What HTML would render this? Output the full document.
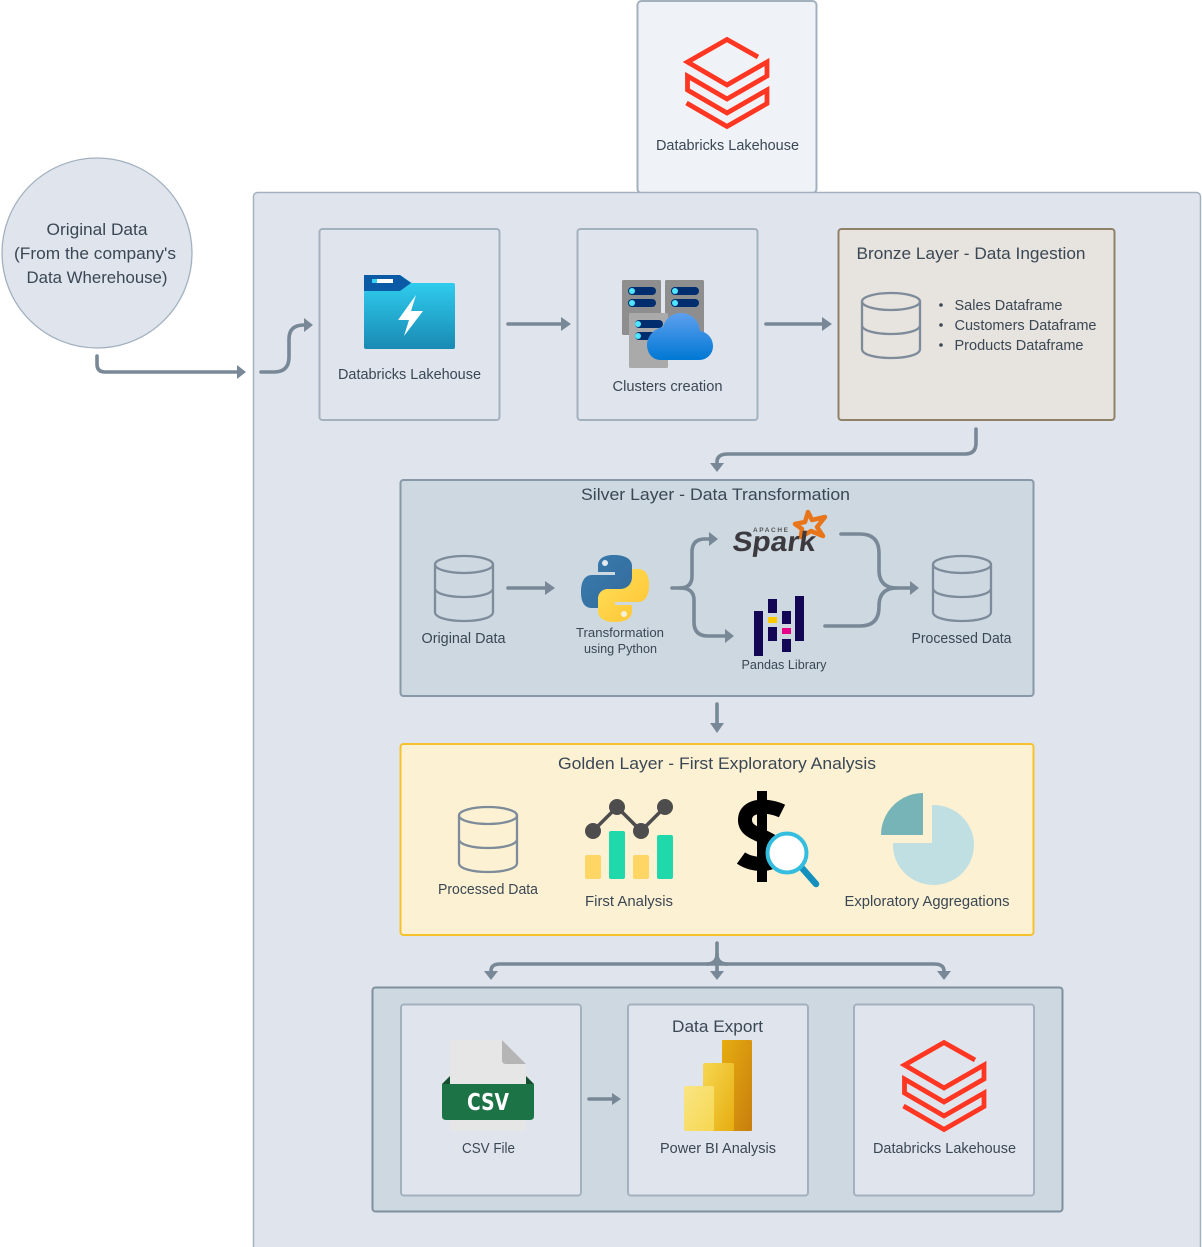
<!DOCTYPE html>
<html><head><meta charset="utf-8"><style>
html,body{margin:0;padding:0;background:#fff}
svg{display:block}
text{font-family:"Liberation Sans",sans-serif;fill:#3a4754;text-anchor:middle}
.c{fill:none;stroke:#788896;stroke-width:3.6;stroke-linecap:round;stroke-linejoin:round}
.a{fill:#788896}
.b{fill:#e0e5ed;stroke:#a3b1bf;stroke-width:2}
.db{fill:none;stroke:#ff3621;stroke-width:4.800;stroke-linejoin:miter}
.cy{fill:none;stroke:#7d8b9a;stroke-width:2.300}
</style></head><body>
<svg width="1202" height="1247" viewBox="0 0 1202 1247" xmlns="http://www.w3.org/2000/svg">
<defs>
<linearGradient id="fold" x1="0" y1="0" x2="0" y2="1"><stop offset="0" stop-color="#32d4f5"/><stop offset="1" stop-color="#198ab3"/></linearGradient>
<linearGradient id="cloud" x1="0" y1="0" x2="0" y2="1"><stop offset="0" stop-color="#5ea0ef"/><stop offset="1" stop-color="#0078d4"/></linearGradient>
<linearGradient id="pyb" x1="0" y1="0" x2="1" y2="1"><stop offset="0" stop-color="#3a7cb0"/><stop offset="1" stop-color="#336a9a"/></linearGradient>
<linearGradient id="pyy" x1="0" y1="0" x2="1" y2="1"><stop offset="0" stop-color="#ffe05a"/><stop offset="1" stop-color="#ffc331"/></linearGradient>
<linearGradient id="pb1" x1="0" y1="0" x2="1" y2="1"><stop offset="0" stop-color="#e6ad10"/><stop offset="1" stop-color="#c87e0e"/></linearGradient>
<linearGradient id="pb2" x1="0" y1="0" x2="1" y2="1"><stop offset="0" stop-color="#f6d751"/><stop offset="1" stop-color="#e6ad10"/></linearGradient>
<linearGradient id="pb3" x1="0" y1="0" x2="1" y2="1"><stop offset="0" stop-color="#f9e583"/><stop offset="1" stop-color="#f6d751"/></linearGradient>
<g id="logo">
<path class="db" d="M758 57 L727 39.500 L687.500 62 L727 85 L767 62 V76 L727 99 L687.500 76 V90 L727 113 L767 90 V103.500 L727 126.500 L686.500 103"/>
</g>
<g id="cyl">
<ellipse cx="29" cy="9.500" rx="29" ry="8.500"/>
<path d="M0 9.500 V57 C0 69 58 69 58 57 V9.500 M0 33 C0 45 58 45 58 33"/>
</g>
</defs>

<!-- top card -->
<rect x="637.500" y="1" width="179" height="192" rx="4" fill="#eff3f7" stroke="#a3b1bf" stroke-width="2"/>
<!-- main panel -->
<rect x="253.500" y="192.500" width="947" height="1070" rx="4" class="b" style="stroke-width:1.500"/>
<use href="#logo"/>
<text x="727.500" y="150" font-size="14.500" textLength="143" lengthAdjust="spacingAndGlyphs">Databricks Lakehouse</text>

<!-- original data circle -->
<circle cx="97" cy="253" r="95" class="b" style="stroke-width:1.300"/>
<text x="97" y="235" font-size="17" textLength="101" lengthAdjust="spacingAndGlyphs">Original Data</text>
<text x="95" y="259" font-size="17" textLength="162" lengthAdjust="spacingAndGlyphs">(From the company's</text>
<text x="97" y="283" font-size="17" textLength="141" lengthAdjust="spacingAndGlyphs">Data Wherehouse)</text>

<!-- connector circle -> panel -->
<path class="c" d="M97 356 V364 Q97 372 105 372 H238"/>
<path class="a" d="M237 365 L246 372 L237 379 Z"/>
<path class="c" d="M261 372 H274 Q289 372 289 357 V339 Q289 325 304 325"/>
<path class="a" d="M304 318 L313 325 L304 332 Z"/>

<!-- row 1 -->
<rect x="319.500" y="229" width="180" height="191" rx="3" class="b"/>
<path d="M364 275 H400 L412 283 H453 Q455 283 455 285 V347 Q455 349 453 349 H366 Q364 349 364 347 Z" fill="url(#fold)"/>
<path d="M364 275 H400 L411 283 L400 291 H364 Z" fill="#0a5aa5"/>
<rect x="372" y="279" width="21" height="4" fill="#fff"/>
<rect x="372" y="279" width="5" height="4" fill="#32d4f5"/>
<path d="M416 295 L398 320 H409 L404 336 L423 311 H411 Z" fill="#fff"/>
<text x="409.500" y="379" font-size="14.500" textLength="143" lengthAdjust="spacingAndGlyphs">Databricks Lakehouse</text>

<path class="c" d="M508 324 H562"/>
<path class="a" d="M561 317 L571 324 L561 331 Z"/>

<rect x="577.500" y="229" width="180" height="191" rx="3" class="b"/>
<rect x="622" y="280" width="39" height="55" rx="1.500" fill="#8e8e8e"/>
<rect x="665" y="280" width="39" height="55" rx="1.500" fill="#8e8e8e"/>
<rect x="629" y="313" width="39" height="55" rx="1.500" fill="#aaa"/>
<rect x="628" y="287" width="28" height="8" rx="4" fill="#002d6e"/>
<rect x="628" y="299" width="28" height="8" rx="4" fill="#002d6e"/>
<rect x="671" y="287" width="28" height="8" rx="4" fill="#002d6e"/>
<rect x="671" y="299" width="28" height="8" rx="4" fill="#002d6e"/>
<rect x="635" y="320" width="28" height="8" rx="4" fill="#002d6e"/>
<rect x="635" y="332" width="28" height="8" rx="4" fill="#002d6e"/>
<circle cx="632" cy="291" r="3" fill="#50e6ff"/><circle cx="632" cy="303" r="3" fill="#50e6ff"/>
<circle cx="675" cy="291" r="3" fill="#50e6ff"/><circle cx="675" cy="303" r="3" fill="#50e6ff"/>
<circle cx="638" cy="324" r="3" fill="#50e6ff"/><circle cx="638" cy="336" r="3" fill="#50e6ff"/>
<path d="M661 360 C650 360 647 350 647 345 C647 336 655 328 663 327 C665 319 672 313 681 313 C691 313 699 320 700 331 C707 332 713 338 713 346 C713 354 707 360 699 360 Z" fill="url(#cloud)"/>
<text x="667.500" y="391" font-size="14.500" textLength="110" lengthAdjust="spacingAndGlyphs">Clusters creation</text>

<path class="c" d="M766 324 H823"/>
<path class="a" d="M822 317 L832 324 L822 331 Z"/>

<!-- bronze -->
<rect x="838.500" y="229" width="276" height="191" rx="3" fill="#e7e3de" stroke="#8f8268" stroke-width="2"/>
<text x="971" y="259" font-size="17" textLength="229" lengthAdjust="spacingAndGlyphs">Bronze Layer - Data Ingestion</text>
<use href="#cyl" x="862" y="292" class="cy"/>
<circle cx="941" cy="305" r="1.800" fill="#3a4754"/><circle cx="941" cy="325" r="1.800" fill="#3a4754"/><circle cx="941" cy="345" r="1.800" fill="#3a4754"/>
<text x="1008.500" y="310" font-size="14.500" textLength="108" lengthAdjust="spacingAndGlyphs">Sales Dataframe</text>
<text x="1025.500" y="330" font-size="14.500" textLength="142" lengthAdjust="spacingAndGlyphs">Customers Dataframe</text>
<text x="1019" y="350" font-size="14.500" textLength="129" lengthAdjust="spacingAndGlyphs">Products Dataframe</text>

<path class="c" d="M976 429 V443 Q976 454 965 454 H728 Q717 454 717 462"/>
<path class="a" d="M710 463 L724 463 L717 472 Z"/>

<!-- silver -->
<rect x="400.500" y="480" width="633" height="216" rx="3" fill="#cdd8e1" stroke="#8799a8" stroke-width="2"/>
<text x="715.500" y="500" font-size="17" textLength="269" lengthAdjust="spacingAndGlyphs">Silver Layer - Data Transformation</text>
<use href="#cyl" x="435" y="555" class="cy"/>
<text x="463.500" y="643" font-size="14.500" textLength="84" lengthAdjust="spacingAndGlyphs">Original Data</text>
<path class="c" d="M508 588 H546"/>
<path class="a" d="M545 581 L555 588 L545 595 Z"/>
<!-- python -->
<path d="M614 555 C603 555 598 559 598 566 V572 H615 V575 H592 C585 575 581 581 581 592 C581 603 585 608 592 608 H598 V600 C598 593 603 589 610 589 H622 C628 589 632 585 632 579 V566 C632 559 625 555 614 555 Z" fill="url(#pyb)"/>
<circle cx="605" cy="563" r="3" fill="#e4ebf0"/>
<path d="M615 622 C626 622 632 618 632 611 V605 H615 V602 H638 C645 602 649 596 649 585 C649 574 645 569 638 569 H632 V577 C632 584 627 589 620 589 H608 C602 589 598 593 598 599 V611 C598 618 604 622 615 622 Z" fill="url(#pyy)"/>
<circle cx="624" cy="614" r="3" fill="#f5f0d8"/>
<text x="620" y="637" font-size="12.800" textLength="88" lengthAdjust="spacingAndGlyphs">Transformation</text>
<text x="620.500" y="653" font-size="12.800" textLength="73" lengthAdjust="spacingAndGlyphs">using Python</text>
<!-- branches -->
<path class="c" d="M672 588 H680 Q692 588 692 576 V552 Q692 539 705 539 H710"/>
<path class="a" d="M709 532 L718 539 L709 546 Z"/>
<path class="c" d="M680 588 Q694 588 694 600 V622 Q694 636 708 636 H725"/>
<path class="a" d="M725 629 L734 636 L725 643 Z"/>
<!-- spark -->
<path d="M808 512 L812 520 L825 517 L817 527 L823 536 L811 531 L801 537 L802 529 L795 524 L805 522 Z" fill="none" stroke="#e8751a" stroke-width="4.500" stroke-linejoin="round"/>
<text x="770.500" y="532" font-size="6.500" font-weight="bold" textLength="35" lengthAdjust="spacing" style="fill:#555">APACHE</text>
<g transform="translate(773,551) skewX(-8)"><text x="0" y="0" font-size="28" font-weight="bold" textLength="83" lengthAdjust="spacingAndGlyphs" style="fill:#3c3a3e">Spark</text></g>
<!-- pandas -->
<g fill="#130654">
<rect x="754" y="611" width="9" height="45"/>
<rect x="768" y="599" width="9" height="14"/>
<rect x="768" y="627" width="9" height="14"/>
<rect x="782" y="611" width="9" height="13"/>
<rect x="782" y="639" width="9" height="13"/>
<rect x="795" y="596" width="9" height="45"/>
</g>
<rect x="768" y="617" width="9" height="6" fill="#ffca00"/>
<rect x="782" y="628" width="9" height="6" fill="#e70488"/>
<text x="784" y="669" font-size="12.800" textLength="85" lengthAdjust="spacingAndGlyphs">Pandas Library</text>
<!-- merge -->
<path class="c" d="M841 534 H860 Q879 534 879 553 V570 Q879 588 897 588 H910"/>
<path class="a" d="M910 581 L919 588 L910 595 Z"/>
<path class="c" d="M825 626 H860 Q879 626 879 607 V606 Q879 588 897 588"/>
<use href="#cyl" x="933" y="555" class="cy"/>
<text x="961.500" y="643" font-size="14.500" textLength="100" lengthAdjust="spacingAndGlyphs">Processed Data</text>

<path class="c" d="M717 704 V723"/>
<path class="a" d="M710 723 L724 723 L717 733 Z"/>

<!-- golden -->
<rect x="400.500" y="744" width="633" height="191" rx="3" fill="#fdf1d3" stroke="#f5c22e" stroke-width="2"/>
<text x="717" y="769" font-size="17" textLength="318" lengthAdjust="spacingAndGlyphs">Golden Layer - First Exploratory Analysis</text>
<use href="#cyl" x="459" y="806" class="cy"/>
<text x="488" y="894" font-size="14.500" textLength="100" lengthAdjust="spacingAndGlyphs">Processed Data</text>
<!-- first analysis -->
<path d="M593 831 L617 807 L641 831 L665 807" fill="none" stroke="#4d4d4d" stroke-width="3.500"/>
<circle cx="593" cy="831" r="8" fill="#4d4d4d"/><circle cx="617" cy="807" r="8" fill="#4d4d4d"/><circle cx="641" cy="831" r="8" fill="#4d4d4d"/><circle cx="665" cy="807" r="8" fill="#4d4d4d"/>
<rect x="585" y="855" width="16" height="24" rx="2" fill="#ffd663"/>
<rect x="609" y="831" width="16" height="48" rx="2" fill="#1fd9ab"/>
<rect x="633" y="855" width="16" height="24" rx="2" fill="#ffd663"/>
<rect x="657" y="835" width="16" height="44" rx="2" fill="#1fd9ab"/>
<text x="629" y="906" font-size="14.500" textLength="88" lengthAdjust="spacingAndGlyphs">First Analysis</text>
<!-- dollar -->
<rect x="757" y="791" width="10" height="91" fill="#000"/>
<path d="M782 811 C770 805 745 803 745 820 C745 838 778 834 778 852 C778 868 752 866 741 858" fill="none" stroke="#000" stroke-width="14"/>
<path d="M802 868 L816 884" stroke="#1590bd" stroke-width="6.500" stroke-linecap="round"/>
<circle cx="787" cy="853" r="19.500" fill="#fff" stroke="#35bde0" stroke-width="4"/>
<!-- pie -->
<path d="M923 793 V835 H881 C881 812 900 793 923 793 Z" fill="#77b4b8"/>
<path d="M932 805 A40.500 40 0 1 1 893 843 H932 Z" fill="#bfdfe3"/>
<text x="927" y="906" font-size="14.500" textLength="165" lengthAdjust="spacingAndGlyphs">Exploratory Aggregations</text>

<!-- fan out -->
<path class="c" d="M717 943 V972"/>
<path class="c" d="M707 964 Q717 964 717 954 Q717 964 727 964"/>
<path class="c" d="M491 971 Q491 964 500 964 H934 Q944 964 944 971"/>
<path class="a" d="M484 971 L498 971 L491 980 Z"/>
<path class="a" d="M710 971 L724 971 L717 980 Z"/>
<path class="a" d="M937 971 L951 971 L944 980 Z"/>

<!-- export -->
<rect x="372.500" y="987.500" width="690" height="224" rx="3" fill="#cdd8e1" stroke="#7f909f" stroke-width="2"/>
<rect x="401" y="1004.500" width="180" height="191" rx="3" class="b"/>
<rect x="628" y="1004.500" width="180" height="191" rx="3" class="b"/>
<rect x="854" y="1004.500" width="180" height="191" rx="3" class="b"/>
<!-- csv -->
<path d="M450 1040 H502 L526 1064 V1131 H450 Z" fill="#e6e6e6"/>
<path d="M502 1040 L526 1064 H506 Q502 1064 502 1060 Z" fill="#b5b5b5"/>
<path d="M442 1084 L450 1076 V1084 Z M534 1084 L526 1076 V1084 Z" fill="#14502f"/>
<path d="M442 1084 H534 V1116 Q534 1120 530 1120 H446 Q442 1120 442 1116 Z" fill="#1c7446"/>
<text x="488" y="1110" font-size="23" font-weight="bold" textLength="42" lengthAdjust="spacingAndGlyphs" style="fill:#fff;font-family:'DejaVu Sans',sans-serif">CSV</text>
<text x="488.500" y="1153" font-size="14.500" textLength="53" lengthAdjust="spacingAndGlyphs">CSV File</text>
<path class="c" d="M589 1099 H613"/>
<path class="a" d="M612 1093 L621 1099 L612 1105 Z"/>
<!-- power bi -->
<text x="717.500" y="1032" font-size="17" textLength="91" lengthAdjust="spacingAndGlyphs">Data Export</text>
<rect x="722" y="1040" width="30" height="91" rx="1" fill="url(#pb1)"/>
<rect x="703" y="1063" width="31" height="68" rx="2" fill="url(#pb2)"/>
<rect x="684" y="1086" width="30" height="45" rx="2" fill="url(#pb3)"/>
<text x="718" y="1153" font-size="14.500" textLength="116" lengthAdjust="spacingAndGlyphs">Power BI Analysis</text>
<!-- bottom logo -->
<use href="#logo" x="217" y="1003"/>
<text x="944.500" y="1153" font-size="14.500" textLength="143" lengthAdjust="spacingAndGlyphs">Databricks Lakehouse</text>
</svg>
</body></html>
